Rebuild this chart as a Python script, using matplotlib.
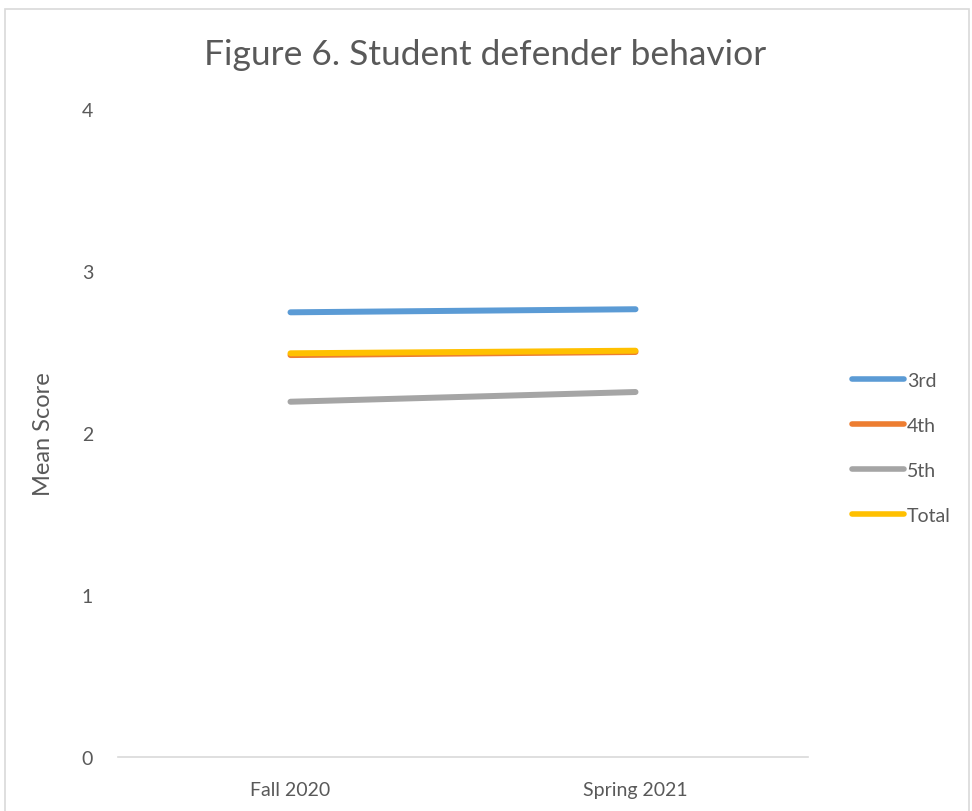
import matplotlib.pyplot as plt
from matplotlib.patches import Rectangle

plt.rcParams['font.family'] = ['Lato', 'DejaVu Sans']

# Mean scores per grade, two survey waves
terms = ['Fall 2020', 'Spring 2021']
series_names = ['3rd', '4th', '5th', 'Total']
grade3 = [2.745, 2.764]
grade4 = [2.481, 2.500]
grade5 = [2.193, 2.253]
total = [2.492, 2.508]

colors = ['#5B9BD5', '#ED7D31', '#A5A5A5', '#FFC000']
text_color = '#595959'

fig = plt.figure(figsize=(9.72, 8.12), dpi=100)
ax = fig.add_axes([118 / 972, 1 - 758 / 812, 690 / 972, 648 / 812])

# outer chart border
fig.patches.append(Rectangle((5 / 972, -0.02), 964 / 972, 1.02 - 10 / 812,
                             transform=fig.transFigure, fill=False,
                             edgecolor='#D9D9D9', linewidth=1.2))

xs = [0, 1]
for name, vals, c in zip(series_names, [grade3, grade4, grade5, total], colors):
    ax.plot(xs, vals, color=c, linewidth=4.3, solid_capstyle='round', label=name)

ax.set_xlim(-0.5, 1.5)
ax.set_ylim(0, 4)
ax.set_yticks([0, 1, 2, 3, 4])
ax.set_xticks(xs)
ax.set_xticklabels(terms)
ax.tick_params(axis='both', length=0, colors=text_color, labelsize=14)
ax.tick_params(axis='y', pad=18)
ax.tick_params(axis='x', pad=17)

for side in ['top', 'right', 'left']:
    ax.spines[side].set_visible(False)
ax.spines['bottom'].set_color('#D9D9D9')
ax.spines['bottom'].set_linewidth(1.2)

ax.set_ylabel('Mean Score', fontsize=17, color=text_color, labelpad=20)

fig.text(485 / 972, 1 - 55 / 812, 'Figure 6. Student defender behavior',
         ha='center', va='center', fontsize=25.5, color=text_color)

leg = fig.legend(loc='center left', bbox_to_anchor=(834 / 972, 1 - 449 / 812),
                 frameon=False, fontsize=14, handlelength=2.7,
                 handletextpad=0.15, labelspacing=1.45, labelcolor=text_color)
for line in leg.get_lines():
    line.set_linewidth(4)
    line.set_solid_capstyle('round')

fig.savefig('out.png', dpi=100)
